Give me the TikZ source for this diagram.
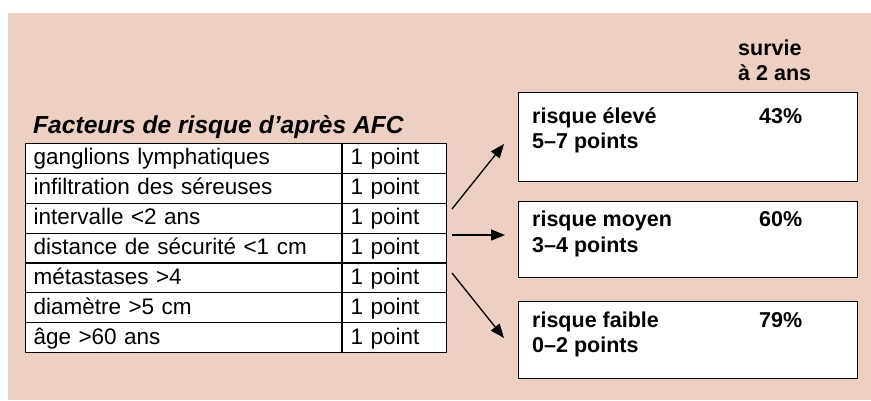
\documentclass[tikz,border=0pt]{standalone}
\usepackage{fontspec}
\setmainfont{Liberation Sans}
\usetikzlibrary{arrows.meta}
\definecolor{bgpink}{RGB}{235,208,195}
\tikzset{
  cellL/.style={draw=black, line width=1.1pt, fill=white, anchor=north west,
    minimum height=29.86pt, text width=300pt, inner xsep=8pt, inner ysep=0pt,
    text height=17pt, text depth=4pt, align=left,
    font=\fontsize{22.5}{27}\selectfont},
  cellR/.style={draw=black, line width=1.1pt, fill=white, anchor=north west,
    minimum height=29.86pt, text width=88pt, inner xsep=8pt, inner ysep=0pt,
    text height=17pt, text depth=4pt, align=left,
    font=\fontsize{22.5}{27}\selectfont},
  riskbox/.style={draw=black, line width=1.2pt, fill=white, anchor=north west,
    minimum width=339pt, inner sep=0pt},
  boxtxt/.style={anchor=base west, inner sep=0pt, font=\bfseries\fontsize{21.5}{26}\selectfont},
  arr/.style={line width=1.3pt, -{Triangle[length=14pt,width=11pt]}}
}
\begin{document}
\begin{tikzpicture}[x=1pt,y=-1pt]
\useasboundingbox (0,0) rectangle (871,400);
\fill[bgpink] (8,13) rectangle (871,400);
% title
\node[anchor=base west, inner sep=0pt, font=\bfseries\itshape\fontsize{24.6}{29}\selectfont] (title) at (33,133) {Facteurs de risque d’après AFC};
% table
\foreach \i/\t in {1/ganglions lymphatiques, 2/infiltration des séreuses, 3/intervalle <2 ans, 4/distance de sécurité <1 cm, 5/métastases >4, 6/diamètre >5 cm, 7/âge >60 ans}{
  \node[cellL] (l\i) at (25,{143+(\i-1)*29.86}) {\t};
  \node[cellR] (r\i) at (342,{143+(\i-1)*29.86}) {1 point};
}
% header
\node[boxtxt] (surv1) at (738,55) {survie};
\node[boxtxt] (surv2) at (738,80) {à 2 ans};
% boxes
\node[riskbox, minimum height=89pt] (hi) at (518,92) {};
\node[riskbox, minimum height=76pt] (mid) at (518,201) {};
\node[riskbox, minimum height=77pt] (lo) at (518,301) {};
\node[boxtxt] (hiA) at (532,123) {risque élevé};
\node[boxtxt] (hiB) at (532,148) {5--7 points};
\node[boxtxt] (hiP) at (759,123) {43\%};
\node[boxtxt] (midA) at (532,226) {risque moyen};
\node[boxtxt] (midB) at (532,252) {3--4 points};
\node[boxtxt] (midP) at (759,226) {60\%};
\node[boxtxt] (loA) at (532,327) {risque faible};
\node[boxtxt] (loB) at (532,352) {0--2 points};
\node[boxtxt] (loP) at (759,327) {79\%};
% arrows
\coordinate (s1) at (452,209);
\coordinate (e1) at (504,144);
\coordinate (s2) at (452,235);
\coordinate (e2) at (505,235);
\coordinate (s3) at (452,273);
\coordinate (e3) at (504,338);
\draw[arr] (s1) -- (e1);
\draw[arr] (s2) -- (e2);
\draw[arr] (s3) -- (e3);
\end{tikzpicture}
\end{document}
